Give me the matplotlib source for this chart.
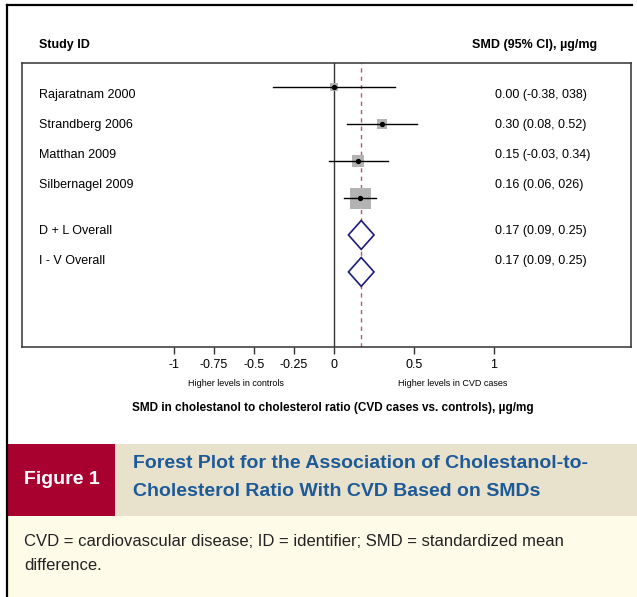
import matplotlib
matplotlib.use("Agg")
import numpy as np
import matplotlib.pyplot as plt
from matplotlib.patches import Rectangle, Polygon
import matplotlib.transforms as mtransforms

# study data (SMD, lower, upper)
studies = ["Rajaratnam 2000", "Strandberg 2006", "Matthan 2009", "Silbernagel 2009"]
smd = [0.00, 0.30, 0.15, 0.16]
ci_lo = [-0.38, 0.08, -0.03, 0.06]
ci_hi = [0.38, 0.52, 0.34, 0.26]
study_txt = ["0.00 (-0.38, 038)", "0.30 (0.08, 0.52)", "0.15 (-0.03, 0.34)", "0.16 (0.06, 026)"]

overall = ["D + L Overall", "I - V Overall"]
ov_smd = [0.17, 0.17]
ov_lo = [0.09, 0.09]
ov_hi = [0.25, 0.25]
ov_txt = ["0.17 (0.09, 0.25)", "0.17 (0.09, 0.25)"]

xticks = [-1, -0.75, -0.5, -0.25, 0, 0.5, 1]
xtick_labels = ["-1", "-0.75", "-0.5", "-0.25", "0", "0.5", "1"]

W, H = 637, 597
plt.rcParams['font.family'] = ['Liberation Sans', 'DejaVu Sans']
fig = plt.figure(figsize=(W / 100, H / 100), dpi=100)

def fx(px): return px / W
def fy(py): return 1 - py / H

# background pieces of the journal layout
bg = fig.add_axes([0, 0, 1, 1])
bg.set_xlim(0, W); bg.set_ylim(H, 0); bg.axis('off')
bg.add_patch(Rectangle((7, 444), W, 72, color='#e8e1cc', lw=0))
bg.add_patch(Rectangle((7, 444), 108, 72, color='#a8002f', lw=0))
bg.add_patch(Rectangle((7, 516), W, 90, color='#fffbe9', lw=0))
bg.plot([7, 7], [5, H], color='black', lw=1.6)
bg.plot([7, 632], [5, 5], color='black', lw=1.6)

bg.text(24, 480, "Figure 1", color='white', fontsize=14, fontweight='bold', va='center')
bg.text(133, 464, "Forest Plot for the Association of Cholestanol-to-", color='#1d5a97',
        fontsize=14, fontweight='bold', va='center')
bg.text(133, 491, "Cholesterol Ratio With CVD Based on SMDs", color='#1d5a97',
        fontsize=14, fontweight='bold', va='center')
bg.text(24, 541, "CVD = cardiovascular disease; ID = identifier; SMD = standardized mean",
        fontsize=12, va='center', color='#222222')
bg.text(24, 565, "difference.", fontsize=12, va='center', color='#222222')

# header texts
bg.text(39, 45, "Study ID", fontsize=9, fontweight='bold', va='center')
bg.text(597, 45, "SMD (95% CI), µg/mg", fontsize=9, fontweight='bold', va='center', ha='right')
bg.text(236, 384, "Higher levels in controls", fontsize=6.5, va='center', ha='center')
bg.text(453, 384, "Higher levels in CVD cases", fontsize=6.5, va='center', ha='center')
bg.text(333, 408, "SMD in cholestanol to cholesterol ratio (CVD cases vs. controls), µg/mg",
        fontsize=8.5, fontweight='bold', va='center', ha='center')

# forest plot axes
ax = fig.add_axes([fx(22), fy(347), fx(631) - fx(22), fy(63) - fy(347)])
ax.set_xlim(-1.95, 1.856)
ax.set_ylim(7.03, -0.65)
for s in ax.spines.values():
    s.set_color('#333333'); s.set_linewidth(1.1)
ax.set_yticks([])
ax.set_xticks(xticks)
ax.set_xticklabels(xtick_labels, fontsize=9)
ax.tick_params(axis='x', direction='out', length=5, width=1, color='#333333', pad=4)

ax.axvline(0, color='#333333', lw=1)
ax.axvline(ov_smd[0], color='#b85a60', lw=1, ls=(0, (3, 3)))

# box size from inverse variance weight
se = [(h - l) / 3.92 for l, h in zip(ci_lo, ci_hi)]
side = [1 / s for s in se]
side_px = [max(7.5, 21 * v / max(side)) for v in side]
for i in range(len(studies)):
    ax.plot([ci_lo[i], ci_hi[i]], [i, i], color='black', lw=1, zorder=3)
    ax.scatter([smd[i]], [i], marker='s', s=(side_px[i] * 0.72) ** 2, color='#b3b3b3',
               lw=0, zorder=2)
    ax.scatter([smd[i]], [i], marker='o', s=8, color='black', zorder=4)

for j in range(len(overall)):
    y = len(studies) + j
    ax.add_patch(Polygon([[ov_lo[j], y], [ov_smd[j], y - 0.39], [ov_hi[j], y], [ov_smd[j], y + 0.39]],
                         closed=True, fc='white', ec='#1c1c7c', lw=1.2, zorder=3))

# row labels
trans = mtransforms.blended_transform_factory(ax.transAxes, ax.transData)
label_y = [0.21, 1.02, 1.83, 2.64, 3.89, 4.70]
names = studies + overall
vals = study_txt + ov_txt
for k in range(len(names)):
    ax.text(0.028, label_y[k], names[k], transform=trans, fontsize=9, va='center')
    ax.text(0.777, label_y[k], vals[k], transform=trans, fontsize=9, va='center')

fig.savefig("out.png", dpi=100)
